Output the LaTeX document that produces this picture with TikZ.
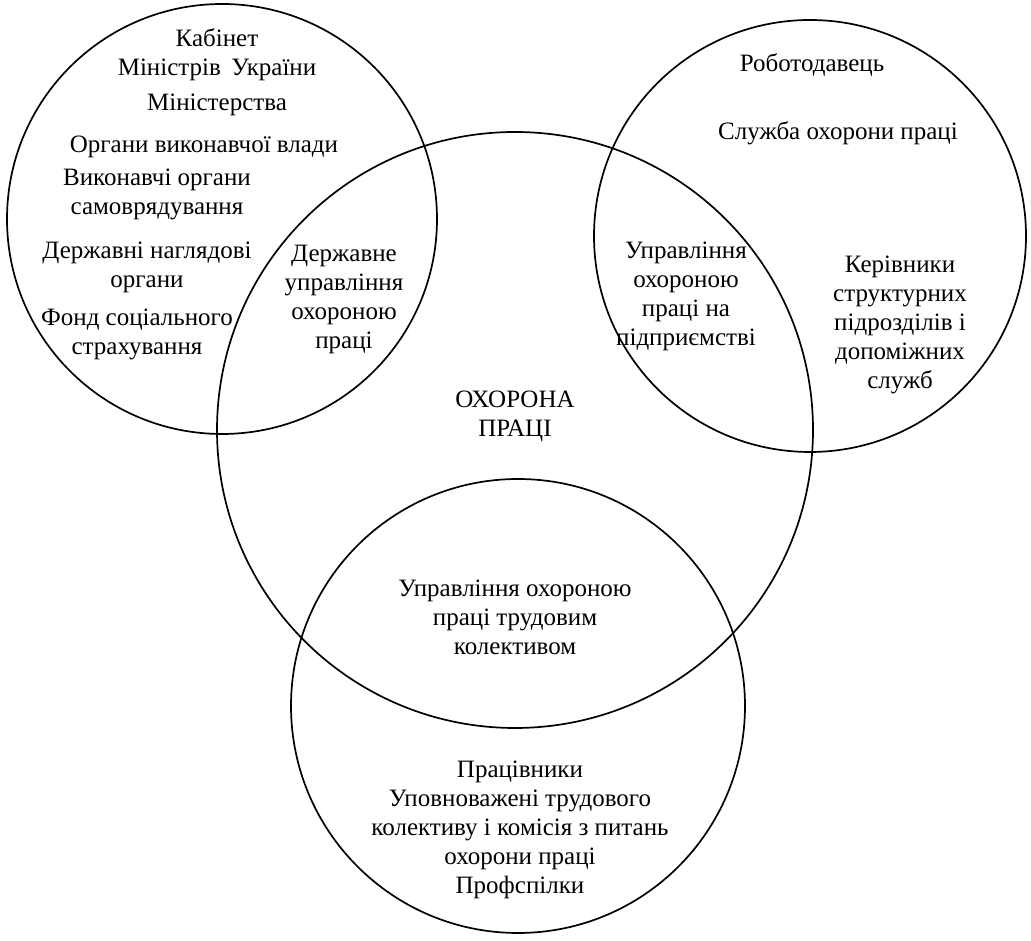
\documentclass[tikz,border=0pt]{standalone}
\usepackage{fontspec}
\setmainfont{Liberation Serif}
\usepackage{xcolor}

\tikzset{
  ring/.style={draw=drawColor, circle, line width=1.7pt, inner sep=0pt, outer sep=0pt},
  venntext/.style={text=drawColor, align=center, inner sep=0pt, outer sep=0pt,
    font=\fontsize{25}{29}\selectfont}
}

\begin{document}
\begin{tikzpicture}[x=1pt,y=1pt]
\definecolor{fillColor}{RGB}{255,255,255}
\definecolor{drawColor}{RGB}{0,0,0}
\path[use as bounding box,fill=fillColor] (0,0) rectangle (1031, 941);

% circles
\node[ring, minimum size=430] (gov) at (222, 722) {};
\node[ring, minimum size=432] (employer) at (810, 705) {};
\node[ring, minimum size=596] (ohorona) at (515, 511) {};
\node[ring, minimum size=454] (staff) at (518, 235) {};

% state bodies
\node[venntext] (kabinet) at (217, 886) {Кабінет\\Міністрів\, України};
\node[venntext] (ministry) at (217, 836) {Міністерства};
\node[venntext] (organy) at (204, 794) {Органи виконавчої влади};
\node[venntext] (vykon) at (157, 747) {Виконавчі органи\\самоврядування};
\node[venntext] (nagliad) at (147, 673.5) {Державні наглядові\\органи};
\node[venntext] (fond) at (137, 607) {Фонд соціального\\страхування};
\node[venntext] (derzh) at (344, 641.5) {Державне\\управління\\охороною\\праці};

% employer side
\node[venntext] (robotodavets) at (812, 876) {Роботодавець};
\node[venntext] (sluzhba) at (838, 808) {Служба охорони праці};
\node[venntext] (pidpr) at (686, 644.5) {Управління\\охороною\\праці на\\підприємстві};
\node[venntext] (kerivnyky) at (900, 616) {Керівники\\структурних\\підрозділів і\\допоміжних\\служб};

% centre and staff
\node[venntext] (title) at (515, 525) {ОХОРОНА\\ПРАЦІ};
\node[venntext] (trud) at (515, 323.5) {Управління охороною\\праці трудовим\\колективом};
\node[venntext] (pratsivnyky) at (520, 111) {Працівники\\Уповноважені трудового\\колективу і комісія з питань\\охорони праці\\Профспілки};
\end{tikzpicture}
\end{document}
